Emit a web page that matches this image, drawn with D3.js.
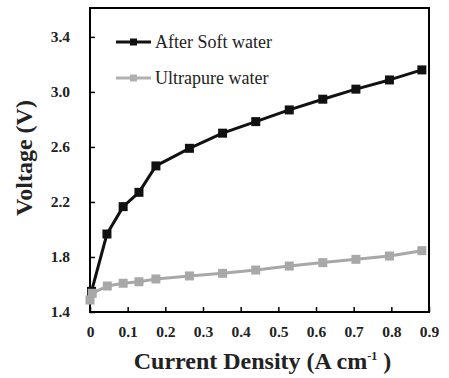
<!DOCTYPE html>
<html>
<head>
<meta charset="utf-8">
<script src="https://cdn.jsdelivr.net/npm/d3@7"></script>
<style>
  body { margin: 0; background: #fff; }
  svg text { font-family: 'Liberation Serif', 'Times New Roman', serif; }
  .bold { font-weight: bold; }
</style>
</head>
<body>
<div id="chart"></div>
<script>
// data
var softX = [0.004, 0.045, 0.088, 0.13, 0.175, 0.264, 0.352, 0.44, 0.529, 0.618, 0.706, 0.795, 0.881];
var softV = [1.55, 1.967, 2.166, 2.27, 2.462, 2.59, 2.70, 2.784, 2.869, 2.947, 3.02, 3.087, 3.16];
var pureX = [0, 0.006, 0.046, 0.088, 0.13, 0.175, 0.264, 0.352, 0.44, 0.529, 0.618, 0.706, 0.795, 0.881];
var pureV = [1.487, 1.536, 1.589, 1.609, 1.62, 1.64, 1.662, 1.681, 1.705, 1.734, 1.759, 1.783, 1.807, 1.846];
var xTicks = [0, 0.1, 0.2, 0.3, 0.4, 0.5, 0.6, 0.7, 0.8, 0.9];
var yTicks = [1.4, 1.8, 2.2, 2.6, 3.0, 3.4];
var seriesNames = ["After Soft water", "Ultrapure water"];

// size and margins
var margin = {top: 8, right: 20, bottom: 66, left: 90},
    width = 449 - margin.left - margin.right,
    height = 378 - margin.top - margin.bottom;

var x = d3.scaleLinear().domain([0, 0.9]).range([0, width]);
var y = d3.scaleLinear().domain([1.4, 3.61]).range([height, 0]);

var svg = d3.select("#chart").append("svg")
    .attr("width", 449)
    .attr("height", 378)
  .append("g")
    .attr("transform", "translate(" + margin.left + "," + margin.top + ")");

// axes, ticks point inward
var xAxis = svg.append("g")
    .attr("transform", "translate(0," + height + ")")
    .call(d3.axisBottom(x).tickValues(xTicks).tickSizeInner(-5).tickSizeOuter(0)
      .tickPadding(14).tickFormat(function(d) { return d === 0 ? "0" : d3.format(".1f")(d); }));
var yAxis = svg.append("g")
    .call(d3.axisLeft(y).tickValues(yTicks).tickSizeInner(-5).tickSizeOuter(0)
      .tickPadding(20).tickFormat(d3.format(".1f")));

[xAxis, yAxis].forEach(function(a) {
  a.attr("font-family", null).attr("font-size", null);
  a.select(".domain").remove();
  a.selectAll("line").attr("stroke", "#000").attr("stroke-width", 1.5);
  a.selectAll("text")
    .attr("class", "bold")
    .style("font-size", "15.5px")
    .attr("fill", "#222");
});

// frame
svg.append("rect")
    .attr("width", width)
    .attr("height", height)
    .attr("fill", "none")
    .attr("stroke", "#000")
    .attr("stroke-width", 2);

var line = d3.line()
    .x(function(d) { return x(d[0]); })
    .y(function(d) { return y(d[1]); });

function drawSeries(xs, vs, color) {
  var pts = xs.map(function(d, i) { return [d, vs[i]]; });
  svg.append("path")
      .datum(pts)
      .attr("fill", "none")
      .attr("stroke", color)
      .attr("stroke-width", 3)
      .attr("stroke-linejoin", "round")
      .attr("d", line);
  svg.selectAll(null)
      .data(pts)
      .enter().append("rect")
      .attr("x", function(d) { return x(d[0]) - 4.5; })
      .attr("y", function(d) { return y(d[1]) - 4.5; })
      .attr("width", 9)
      .attr("height", 9)
      .attr("fill", color);
}

drawSeries(softX, softV, "#111");
drawSeries(pureX, pureV, "#a8a8a8");

// legend
var legColors = ["#111", "#b0b0b0"];
seriesNames.forEach(function(name, i) {
  var ly = 34 + i * 36;
  var g = svg.append("g").attr("transform", "translate(26," + ly + ")");
  g.append("line").attr("x1", 0).attr("x2", 35).attr("y1", 0).attr("y2", 0)
    .attr("stroke", legColors[i]).attr("stroke-width", 3);
  g.append("rect").attr("x", 14).attr("y", -3.5).attr("width", 7).attr("height", 7)
    .attr("fill", legColors[i]);
  g.append("text").attr("x", 39).attr("y", 6)
    .style("font-size", "18px")
    .attr("fill", "#222")
    .text(name);
});

// axis titles
svg.append("text")
    .attr("class", "bold")
    .attr("x", width / 2 + 3)
    .attr("y", height + 57)
    .attr("text-anchor", "middle")
    .style("font-size", "24px")
    .attr("fill", "#222")
    .html('Current Density (A cm<tspan dy="-9" style="font-size:12px">-1</tspan><tspan dy="9"> )</tspan>');

svg.append("text")
    .attr("class", "bold")
    .attr("transform", "rotate(-90)")
    .attr("x", -150)
    .attr("y", -58)
    .attr("text-anchor", "middle")
    .style("font-size", "24px")
    .attr("fill", "#222")
    .text("Voltage (V)");
</script>
</body>
</html>
